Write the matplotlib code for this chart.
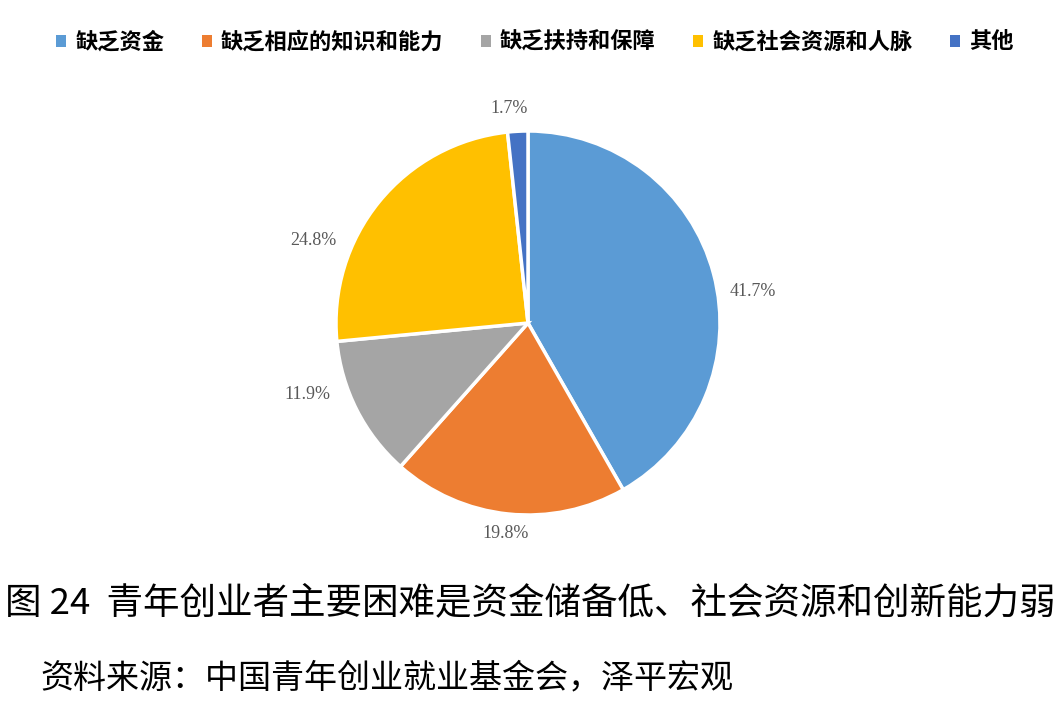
import numpy as np
import matplotlib
matplotlib.use("Agg")
import matplotlib.pyplot as plt
from matplotlib.patches import Patch

plt.rcParams['font.family'] = ['Noto Sans CJK SC', 'DejaVu Sans']

categories = ['缺乏资金', '缺乏相应的知识和能力', '缺乏扶持和保障', '缺乏社会资源和人脉', '其他']
shares = [41.7, 19.8, 11.9, 24.8, 1.7]
colors = ['#5B9BD5', '#ED7D31', '#A5A5A5', '#FFC000', '#4472C4']

title = '图 24  青年创业者主要困难是资金储备低、社会资源和创新能力弱'
source = '资料来源：中国青年创业就业基金会，泽平宏观'

# data label placement (angle in degrees, distance in radii), like Excel's best fit
label_angle = [8, -96, 198, 159, 95]
label_dist = [1.18, 1.10, 1.21, 1.20, 1.12]

W, H = 1058, 702
fig = plt.figure(figsize=(W / 100, H / 100), dpi=100)

# pie axes: radius 1 -> 192 px, centred at (528, 323) px
r_px = 192
half = 1.3
size = 2 * half * r_px
ax = fig.add_axes([(528 - size / 2) / W, (H - 323 - size / 2) / H, size / W, size / H])
wedges, _ = ax.pie(shares, colors=colors, startangle=90, counterclock=False,
                   wedgeprops=dict(edgecolor='white', linewidth=2.5))
for v, a, d in zip(shares, label_angle, label_dist):
    t = np.deg2rad(a)
    ax.text(d * np.cos(t), d * np.sin(t), f'{v}%', ha='center', va='center',
            family='Liberation Serif', fontsize=13, color='#595959')
ax.set_xlim(-half, half)
ax.set_ylim(-half, half)
ax.set_aspect('equal')
ax.axis('off')

handles = [Patch(facecolor=c, edgecolor='none') for c in colors]
fig.legend(handles, categories, loc='center', bbox_to_anchor=(535 / W, 1 - 42 / H),
           ncol=5, frameon=False, handlelength=0.45, handleheight=0.45,
           handletextpad=0.4, columnspacing=1.7,
           prop=dict(family=['Noto Sans CJK SC', 'DejaVu Sans'], weight='bold', size=16))

fig.text(5 / W, 1 - 603 / H, title, ha='left', va='center', fontsize=26.3, color='black')
fig.text(40 / W, 1 - 678 / H, source, ha='left', va='center', fontsize=23.8, color='black')

fig.savefig('out.png', dpi=100, facecolor='white')
